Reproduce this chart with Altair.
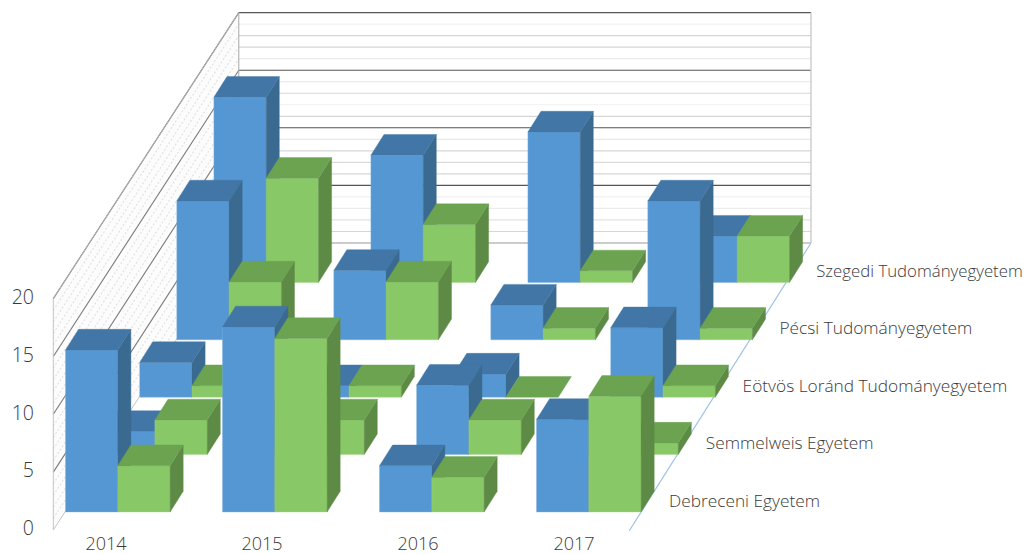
import altair as alt

# --- data ---
YEARS = ["2014", "2015", "2016", "2017"]
UNIVERSITIES = ["Debreceni Egyetem", "Semmelweis Egyetem", "Eötvös Loránd Tudományegyetem",
                "Pécsi Tudományegyetem", "Szegedi Tudományegyetem"]
LABEL_SIZES = [17.3, 17.3, 17.3, 17.3, 16.8]
BLUE = [[14, 16, 4, 8], [2, 3, 6, 3], [3, 1, 2, 6], [12, 6, 3, 12], [16, 11, 13, 4]]
GREEN = [[4, 15, 3, 10], [3, 3, 3, 1], [1, 1, 0, 1], [5, 5, 1, 1], [9, 5, 1, 4]]
AXIS_TICKS = [0, 5, 10, 15, 20]
MINOR_SHADES = {19: "#f1f1f1", 18: "#d6d6d6", 17: "#d6d6d6", 16: "#ebebeb",
                14: "#ebebeb", 13: "#d6d6d6", 12: "#f1f1f1", 11: "#d6d6d6",
                9: "#e9e9e9", 8: "#d6d6d6", 7: "#dadada", 6: "#d6d6d6",
                4: "#f1f1f1", 3: "#ececec", 2: "#e2e2e2", 1: "#d6d6d6"}

# --- oblique projection parameters (layout) ---
UNIT = 11.57
ROW_DX, ROW_DY = 37.1, 57.4
DEPTH_DX, DEPTH_DY = 13.1, 20.7
BAR_W = 52.3
YEAR_STEP = 157.0
X0, Y0 = 65.5, 512.0
FLOOR_X, FLOOR_Y = 53.3, 530.0
BACK_X, BACK_Y = 238.8, 243.0
RIGHT_X, RIGHT_Y = 811.0, 630.0
W, H = 1015, 546

PALETTE = {"blue": ("#5597d3", "#4176a6", "#3a6a90", "#7fb0dc"),
           "green": ("#88c866", "#6ba350", "#5d8a45", "#a5d58c")}

faces = []


def add(fid, fill, stroke, pts):
    for x, y, y2 in pts:
        faces.append({"f": fid, "x": x, "y": y, "y2": y2, "c": fill, "s": stroke})


# side wall first
add(0, "#fcfcfc", "#fcfcfc", [(FLOOR_X, FLOOR_Y - 20 * UNIT, FLOOR_Y), (BACK_X, BACK_Y - 20 * 11.52, BACK_Y)])

fid = 1
for r in range(len(UNIVERSITIES) - 1, -1, -1):
    for c in range(len(YEARS)):
        for s, (name, vals) in enumerate((("blue", BLUE), ("green", GREEN))):
            v = vals[r][c]
            x = X0 + ROW_DX * r + YEAR_STEP * c + BAR_W * s
            base = Y0 - ROW_DY * r
            top = base - v * UNIT
            front, upper, side, edge = PALETTE[name]
            if v > 0:
                add(fid, front, edge, [(x, top, base), (x + BAR_W, top, base)])
                fid += 1
                add(fid, side, side, [(x + BAR_W, top, base),
                                      (x + BAR_W + DEPTH_DX, top - DEPTH_DY, base - DEPTH_DY)])
                fid += 1
            add(fid, upper, upper, [(x, top, top), (x + DEPTH_DX, top - DEPTH_DY, top),
                                    (x + BAR_W, top - DEPTH_DY, top),
                                    (x + BAR_W + DEPTH_DX, top - DEPTH_DY, top - DEPTH_DY)])
            fid += 1

# wall lines
lines = []
for level in range(0, 21):
    fy = FLOOR_Y - level * UNIT
    by = BACK_Y - level * 11.52
    if level % 5 == 0:
        if level > 0:
            lines.append({"x": BACK_X, "y": by, "x2": RIGHT_X, "y2": by, "c": "#555555", "w": 1.1})
            lines.append({"x": FLOOR_X, "y": fy, "x2": BACK_X, "y2": by, "c": "#7a7a7a", "w": 1.1})
        else:
            lines.append({"x": BACK_X, "y": by, "x2": RIGHT_X, "y2": by, "c": "#999999", "w": 1.1})
    else:
        lines.append({"x": BACK_X, "y": by, "x2": RIGHT_X, "y2": by, "c": MINOR_SHADES[level], "w": 1.2})

dashed = []
for level in range(1, 20):
    if level % 5:
        dashed.append({"x": FLOOR_X, "y": FLOOR_Y - level * UNIT, "x2": BACK_X, "y2": BACK_Y - level * 11.52})

frame = [
    {"x": FLOOR_X, "y": FLOOR_Y, "x2": FLOOR_X, "y2": FLOOR_Y - 20 * UNIT, "c": "#c4c4c4", "w": 1},
    {"x": FLOOR_X, "y": FLOOR_Y, "x2": BACK_X, "y2": BACK_Y, "c": "#c4c4c4", "w": 1},
    {"x": FLOOR_X, "y": FLOOR_Y - 20 * UNIT, "x2": BACK_X, "y2": BACK_Y - 20 * 11.52, "c": "#b0b0b0", "w": 1},
    {"x": BACK_X, "y": BACK_Y, "x2": BACK_X, "y2": BACK_Y - 20 * 11.52, "c": "#a8a8a8", "w": 1},
    {"x": RIGHT_X, "y": BACK_Y, "x2": RIGHT_X, "y2": BACK_Y - 20 * 11.52, "c": "#c8c8c8", "w": 1.3},
    {"x": 629.3, "y": 530.7, "x2": RIGHT_X, "y2": BACK_Y, "c": "#9dc3e6", "w": 1.2},
]

xs = alt.Scale(domain=[8, 8 + W], range=[0, W])
ys = alt.Scale(domain=[8, 8 + H], range=[0, H])
X = alt.X("x:Q", scale=xs, axis=None)
Y = alt.Y("y:Q", scale=ys, axis=None)


ytxt = [{"x": 34, "y": 529.0 - t * 11.53, "t": str(t), "z": 19.5} for t in AXIS_TICKS]
xtxt = [{"x": 106 + 156 * i, "y": 545, "t": y, "z": 18} for i, y in enumerate(YEARS)]
ctxt = [{"x": 669 + 36.8 * i, "y": 501.5 - 57.4 * i, "t": u, "z": LABEL_SIZES[i]} for i, u in enumerate(UNIVERSITIES)]


def rules(rows):
    return alt.Chart(alt.Data(values=rows)).mark_rule().encode(
        x=X, y=Y, x2="x2:Q", y2="y2:Q",
        color=alt.Color("c:N", scale=None),
        strokeWidth=alt.StrokeWidth("w:Q", scale=None),
    )


wall = alt.Chart(alt.Data(values=[r for r in faces if r["f"] == 0])).mark_area().encode(
    x=X, y=Y, y2="y2:Q", color=alt.Color("c:N", scale=None))
dash = alt.Chart(alt.Data(values=dashed)).mark_rule(color="#e2e2e2", strokeDash=[2, 2], strokeWidth=1.2).encode(
    x=X, y=Y, x2="x2:Q", y2="y2:Q")
bars = alt.Chart(alt.Data(values=[r for r in faces if r["f"] > 0])).mark_area(strokeWidth=0.4).encode(
    x=X, y=Y, y2="y2:Q", detail="f:O",
    fill=alt.Fill("c:N", scale=None), stroke=alt.Stroke("s:N", scale=None))


def labels(rows, align):
    return alt.Chart(alt.Data(values=rows)).mark_text(
        align=align, baseline="middle", font="Open Sans", fontWeight=300, color="#3a3a3a"
    ).encode(x=X, y=Y, text="t:N", size=alt.Size("z:Q", scale=None))


chart = alt.layer(
    wall, dash, rules(lines), rules(frame), bars,
    labels(ytxt, "right"), labels(xtxt, "center"), labels(ctxt, "left"),
).properties(width=W, height=H, padding=0, autosize=alt.AutoSizeParams(type="none"),
             background="white").configure_view(stroke=None)

chart.save("out.html", embed_options={"renderer": "svg", "actions": False})
